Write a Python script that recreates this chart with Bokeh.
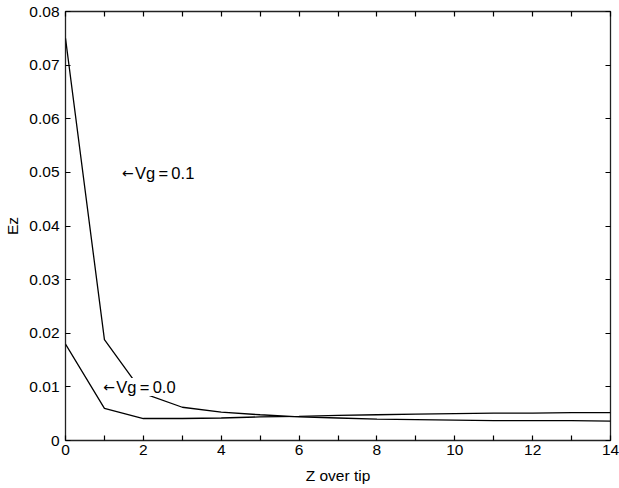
from bokeh.plotting import figure
from bokeh.models import (LinearAxis, FixedTicker, CustomJSTickFormatter, Label, Range1d,
                          CustomLabelingPolicy)
from bokeh.embed import file_html
from bokeh.resources import INLINE

# Data
z = [0, 1, 2, 3, 4, 5, 6, 7, 8, 9, 10, 11, 12, 13, 14]
ez_vg01 = [0.075, 0.0188, 0.0088, 0.0062, 0.0053, 0.0048, 0.0044, 0.0042,
           0.0040, 0.0039, 0.0038, 0.0037, 0.0037, 0.0037, 0.0036]
ez_vg00 = [0.018, 0.0060, 0.0041, 0.0041, 0.0042, 0.0044, 0.0045, 0.0047,
           0.0048, 0.0049, 0.0050, 0.0051, 0.0051, 0.0052, 0.0052]
x_major = [0, 2, 4, 6, 8, 10, 12, 14]
x_minor = [1, 3, 5, 7, 9, 11, 13]
y_major = [0, 0.01, 0.02, 0.03, 0.04, 0.05, 0.06, 0.07, 0.08]
labels = ["Vg\u2009=\u20090.1", "Vg\u2009=\u20090.0"]
label_x = [1.45, 0.97]
label_y = [0.0499, 0.0100]

FONT = "Liberation Sans"

p = figure(width=619, height=488, output_backend="svg", toolbar_location=None,
           x_range=Range1d(0, 14), y_range=Range1d(0, 0.08),
           min_border_left=65, min_border_right=9, min_border_top=11, min_border_bottom=48,
           x_axis_location=None, y_axis_location=None)
p.xgrid.visible = False
p.ygrid.visible = False
p.outline_line_color = "#222222"
p.outline_line_width = 1.3
p.background_fill_color = "white"
p.border_fill_color = "white"

xt = FixedTicker(ticks=x_major, minor_ticks=x_minor)
yt = FixedTicker(ticks=y_major)

hide_all = CustomLabelingPolicy(code="""
try { return new indices.constructor(indices.size, 0) } catch (e) { return indices }
""")

def style(ax, labels_on=True):
    ax.major_tick_in = 5
    ax.major_tick_out = 0
    ax.minor_tick_in = 5
    ax.minor_tick_out = 0
    ax.major_tick_line_color = "black"
    ax.minor_tick_line_color = "black"
    ax.major_tick_line_width = 1.2
    ax.minor_tick_line_width = 1.2
    ax.axis_line_color = None
    ax.major_label_text_font = FONT
    ax.major_label_text_font_size = "15.5px"
    ax.major_label_text_color = "black"
    ax.axis_label_text_font = FONT
    ax.axis_label_text_font_size = "15.5px"
    ax.axis_label_text_font_style = "normal"
    ax.axis_label_text_color = "black"
    if not labels_on:
        ax.major_label_policy = hide_all
        ax.major_label_text_font_size = "0px"
        ax.major_label_standoff = 0

xb = LinearAxis(ticker=xt, axis_label="Z over tip")
style(xb)
xb.major_label_standoff = 4
xb.axis_label_standoff = 9
p.add_layout(xb, "below")

xa = LinearAxis(ticker=xt)
style(xa, False)
p.add_layout(xa, "above")

yl = LinearAxis(ticker=yt, axis_label="Ez",
                formatter=CustomJSTickFormatter(code="return tick == 0 ? '0' : tick.toFixed(2);"))
style(yl)
yl.major_label_standoff = 6
yl.axis_label_standoff = 5
p.add_layout(yl, "left")

yr = LinearAxis(ticker=yt)
style(yr, False)
p.add_layout(yr, "right")

p.line(z, ez_vg01, line_color="black", line_width=1.3)
p.line(z, ez_vg00, line_color="black", line_width=1.3)

for t, lx, ly in zip(labels, label_x, label_y):
    p.add_layout(Label(x=lx, y=ly, text=t, x_offset=13, text_font=FONT, text_font_size="16.5px",
                       text_color="black", text_baseline="middle", text_align="left",
                       background_fill_color="white", background_fill_alpha=1.0))
    p.add_layout(Label(x=lx, y=ly, text="\u2190", text_font="DejaVu Sans", text_font_size="14px",
                       text_color="black", text_baseline="middle", text_align="left",
                       background_fill_color="white", background_fill_alpha=1.0))

open("out.html", "w").write(file_html(p, INLINE))
